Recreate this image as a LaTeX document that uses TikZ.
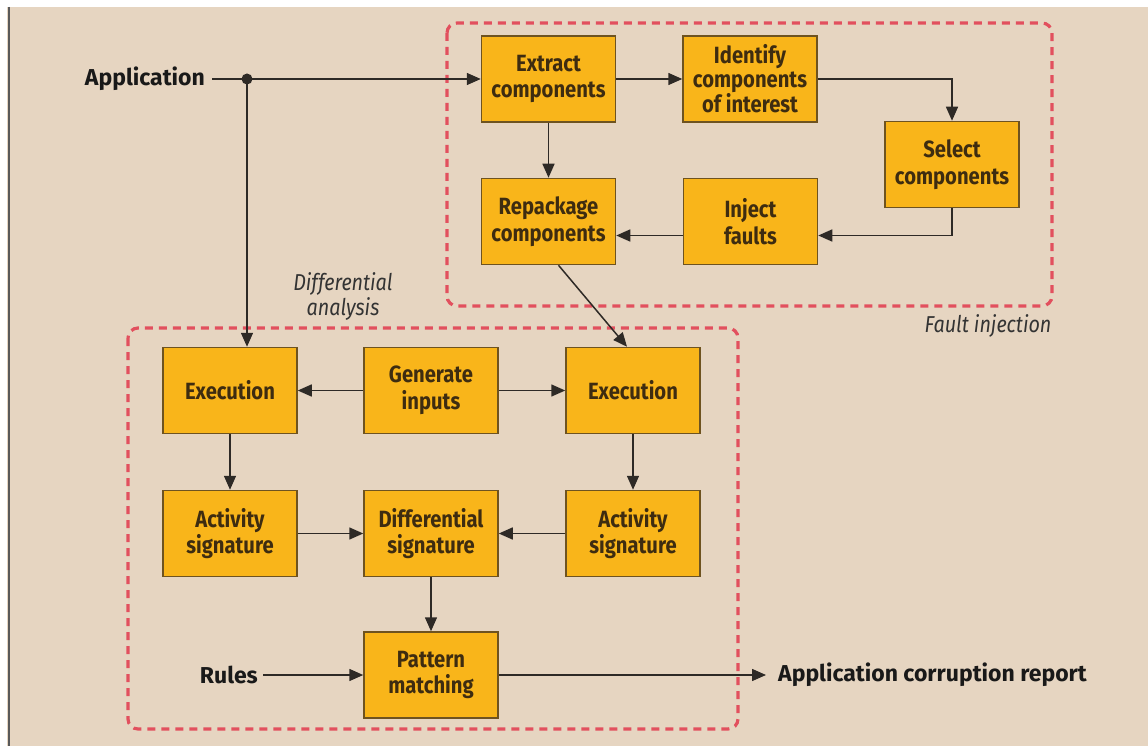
\documentclass[tikz,border=0pt]{standalone}
\usepackage{fontspec}
\setmainfont{Fira Sans}
\newfontfamily\boxfont[FakeStretch=0.86]{Fira Sans}
\newfontfamily\labfont{Fira Sans}
\usetikzlibrary{arrows.meta}
\definecolor{bg}{HTML}{E6D5C1}
\definecolor{boxfill}{HTML}{F9B51A}
\definecolor{boxedge}{HTML}{6E5320}
\definecolor{boxtext}{HTML}{3E2C10}
\definecolor{dashred}{HTML}{E2505E}
\definecolor{wirecol}{HTML}{2E2A26}
\begin{document}
\begin{tikzpicture}[x=1pt,y=-1pt,
  proc/.style={draw=boxedge, line width=1.5pt, fill=boxfill, minimum width=134pt, minimum height=86pt, align=center, text=boxtext, font=\boxfont\bfseries\fontsize{23.5}{26.5}\selectfont, inner sep=0pt},
  lab/.style={font=\labfont\bfseries\fontsize{23}{26}\selectfont, text=black!90, inner sep=0pt},
  note/.style={font=\boxfont\itshape\fontsize{23}{25}\selectfont, text=black!80, align=center, inner sep=0pt},
  wire/.style={draw=wirecol, line width=1.5pt},
  arr/.style={wire, -{Triangle[length=14pt,width=12pt]}},
  group/.style={draw=dashred, line width=3.2pt, dash pattern=on 8pt off 6pt, rounded corners=10pt}]
\useasboundingbox (0,0) rectangle (1148,746);
\fill[white] (0,0) rectangle (1148,746);
\fill[bg] (7,7) rectangle (1148,746);
\draw[black!65, line width=2pt] (8.5,7) -- (8.5,746);

\draw[group] (447,23) rectangle (1052,306);
\draw[group] (128,328) rectangle (738,729);

\node[proc] (extract) at (548.5,79) {Extract\\components};
\node[proc, font=\boxfont\bfseries\fontsize{23.5}{24}\selectfont] (identify) at (750,79) {Identify\\components\\of interest};
\node[proc] (select) at (952,164.5) {Select\\components};
\node[proc] (inject) at (750.5,221.5) {Inject\\faults};
\node[proc] (repack) at (548.5,221.5) {Repackage\\components};

\node[proc] (exec1) at (230,390.5) {Execution};
\node[proc] (gen) at (431,390.5) {Generate\\inputs};
\node[proc] (exec2) at (633,390.5) {Execution};
\node[proc] (act1) at (230,533.5) {Activity\\signature};
\node[proc] (diff) at (431,533.5) {Differential\\signature};
\node[proc] (act2) at (633,533.5) {Activity\\signature};
\node[proc] (pat) at (431,675) {Pattern\\matching};

\node[lab, anchor=east] (app) at (205,79) {Application};
\node[lab, anchor=east] (rules) at (258,675) {Rules};
\node[lab, anchor=west] (report) at (778,675) {Application corruption report};
\node[note] (diffnote) at (343,296) {Differential\\analysis};
\node[note] (faultnote) at (988,326) {Fault injection};

\coordinate (dot) at (247,79);
\draw[arr] ([xshift=7pt]app.east) -- (extract.west);
\fill[wirecol] (dot) circle (5.5pt);
\draw[arr] (dot) -- (dot |- exec1.north);
\draw[arr] (extract.east) -- (identify.west);
\draw[arr] (identify.east) -| (select.north);
\draw[arr] (select.south) |- ([yshift=-14pt]inject.east);
\draw[arr] ([yshift=-14pt]inject.west) -- ([yshift=-14pt]repack.east);
\draw[arr] (extract.south) -- (repack.north);
\draw[arr] ([xshift=10pt]repack.south) -- ([xshift=-6pt]exec2.north);

\draw[arr] (gen.west) -- (exec1.east);
\draw[arr] (gen.east) -- (exec2.west);
\draw[arr] (exec1.south) -- (act1.north);
\draw[arr] (exec2.south) -- (act2.north);
\draw[arr] (act1.east) -- (diff.west);
\draw[arr] (act2.west) -- (diff.east);
\draw[arr] (diff.south) -- (pat.north);
\draw[arr] ([xshift=5pt]rules.east) -- (pat.west);
\draw[arr] (pat.east) -- ([xshift=-12pt]report.west);
\end{tikzpicture}
\end{document}
